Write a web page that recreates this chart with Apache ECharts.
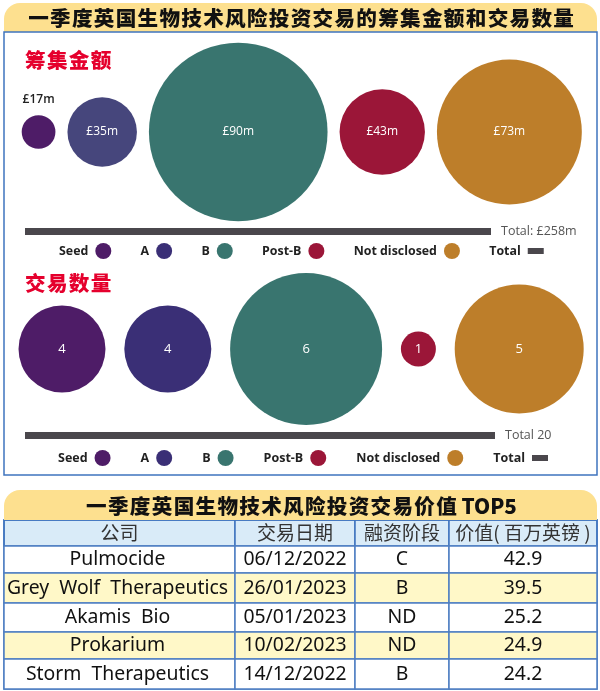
<!DOCTYPE html>
<html>
<head>
<meta charset="utf-8">
<script src="https://cdn.jsdelivr.net/npm/echarts@6/dist/echarts.min.js"></script>
<style>
html,body{margin:0;padding:0;background:#fff}
#chart{width:600px;height:691px}
</style>
</head>
<body>
<div id="chart"></div>
<script>
var stages = ['Seed', 'A', 'B', 'Post-B', 'Not disclosed'];
var amounts = [17, 35, 90, 43, 73];
var amountTotal = 258;
var deals = [4, 4, 6, 1, 5];
var dealTotal = 20;

var tableHead = ['公司', '交易日期', '融资阶段', '价值( 百万英镑 )'];
var companies = ['Pulmocide', 'Grey  Wolf  Therapeutics', 'Akamis  Bio', 'Prokarium', 'Storm  Therapeutics'];
var dealDates = ['06/12/2022', '26/01/2023', '05/01/2023', '10/02/2023', '14/12/2022'];
var dealStages = ['C', 'B', 'ND', 'ND', 'B'];
var dealValues = ['42.9', '39.5', '25.2', '24.9', '24.2'];

var myChart = echarts.init(document.getElementById('chart'));

var cjk = '"Noto Sans CJK SC", sans-serif';
var latin = '"Open Sans", "Noto Sans", sans-serif';
var stageColors = ['#4e1c67', '#3a2f76', '#39756f', '#9b1638', '#bd7e2a'];
var amountColors = ['#4e1c67', '#46467c', '#39756f', '#9b1638', '#bd7e2a'];
var totalColor = '#4a474c';
var dealSizes = {1: 35, 4: 87, 5: 129, 6: 152};
var rowSizes = [27, 30, 29, 27, 30];

// 字距
function spaced(s) { return s.split('').join('\u200a'); }

// 圆按直径依次排开
function packX(sizes, start, gap) {
    var x = start, out = [];
    sizes.forEach(function (d) {
        out.push(x + d / 2);
        x += d + gap;
    });
    return out;
}

var amountSizes = amounts.map(function (v) { return v * 1.985; });
var amountX = packX(amountSizes, 21.7, 12);
var dealDiameters = deals.map(function (v) { return dealSizes[v]; });
var dealX = packX(dealDiameters, 18.5, 18.8);

var series = [];
stages.forEach(function (name, i) {
    series.push({
        name: name, type: 'scatter', xAxisIndex: 0, yAxisIndex: 0,
        data: [[amountX[i], 0, amounts[i]]],
        symbolSize: amountSizes[i],
        itemStyle: {color: amountColors[i], opacity: 1},
        label: {
            show: true,
            position: i === 0 ? 'top' : 'inside',
            distance: 10,
            color: i === 0 ? '#222' : '#fff',
            fontFamily: latin, fontSize: 12, fontWeight: i === 0 ? 600 : 400,
            formatter: function (p) { return '£' + p.value[2] + 'm'; }
        }
    });
    series.push({
        name: name, type: 'scatter', xAxisIndex: 1, yAxisIndex: 1,
        data: [[dealX[i], 0, deals[i]]],
        symbolSize: dealDiameters[i],
        itemStyle: {color: stageColors[i], opacity: 1},
        label: {
            show: true, position: 'inside', color: '#fff',
            fontFamily: latin, fontSize: 13,
            formatter: function (p) { return p.value[2]; }
        }
    });
});
series.push({
    name: 'Total', type: 'bar', xAxisIndex: 2, yAxisIndex: 2, barWidth: 7,
    data: [amountTotal], itemStyle: {color: totalColor},
    label: {show: true, position: 'right', distance: 10, color: '#555', fontFamily: latin, fontSize: 12.5,
        formatter: function (p) { return 'Total: £' + p.value + 'm'; }}
});
series.push({
    name: 'Total', type: 'bar', xAxisIndex: 3, yAxisIndex: 3, barWidth: 7,
    data: [dealTotal], itemStyle: {color: totalColor},
    label: {show: true, position: 'right', distance: 10, color: '#555', fontFamily: latin, fontSize: 12.5,
        formatter: function (p) { return 'Total ' + p.value; }}
});

function legendOf(left, top, fontSize, gap) {
    var items = stages.map(function (name, i) {
        return {name: name, icon: 'circle', itemStyle: {color: stageColors[i]}};
    });
    items.push({name: 'Total', icon: 'path://M-2,8L-2,8M0,5H16V11H0ZM18,8L18,8', itemStyle: {color: totalColor}});
    return {
        left: left, top: top, orient: 'horizontal', align: 'right', selectedMode: false,
        itemWidth: 20, itemHeight: 16, itemGap: gap, padding: 0, data: items,
        textStyle: {fontFamily: latin, fontWeight: 700, fontSize: fontSize, color: '#222'}
    };
}

function hiddenAxis(type, grid, min, max) {
    return {type: type, gridIndex: grid, min: min, max: max, show: false};
}

// 表格
var cells = [];
companies.forEach(function (c, r) {
    [c, dealDates[r], dealStages[r], dealValues[r]].forEach(function (v, col) {
        cells.push({
            coord: [col, r], value: v,
            itemStyle: {color: r % 2 ? '#fff8c8' : '#fff'},
            label: {padding: col === 0 ? [5, 4, 0, 0] : [5, 0, 0, 0]}
        });
    });
});

var option = {
    animation: false,
    backgroundColor: '#fff',
    grid: [
        {left: 0, width: 600, top: 32, height: 200},
        {left: 0, width: 600, top: 249, height: 200},
        {left: 25, width: 466, top: 228, height: 7},
        {left: 25, width: 470, top: 432, height: 7}
    ],
    xAxis: [
        hiddenAxis('value', 0, 0, 600),
        hiddenAxis('value', 1, 0, 600),
        hiddenAxis('value', 2, 0, amountTotal),
        hiddenAxis('value', 3, 0, dealTotal)
    ],
    yAxis: [
        hiddenAxis('value', 0, -1, 1),
        hiddenAxis('value', 1, -1, 1),
        {type: 'category', gridIndex: 2, show: false, data: ['Total']},
        {type: 'category', gridIndex: 3, show: false, data: ['Total']}
    ],
    legend: [
        legendOf(59, 243, 12.4, 29.3),
        legendOf(58, 450, 12.5, 30)
    ],
    matrix: {
        left: 4, top: 520, width: 593, height: 169,
        x: {
            data: [
                {value: tableHead[0], size: 231},
                {value: tableHead[1], size: 120},
                {value: tableHead[2], size: 94},
                {value: tableHead[3], size: 148}
            ],
            levelSize: 26,
            itemStyle: {color: '#d9ebf8', borderColor: '#3f74bf', borderWidth: 1.5},
            label: {fontFamily: cjk, fontSize: 19, color: '#333', overflow: 'none'}
        },
        y: {show: false, data: rowSizes.map(function (s, i) { return {value: companies[i], size: s}; })},
        body: {
            data: cells,
            itemStyle: {borderColor: '#4f7fc2', borderWidth: 1.5},
            label: {fontFamily: '"Noto Sans", sans-serif', fontSize: 19.4, color: '#111', overflow: 'none'}
        },
        backgroundStyle: {color: 'transparent', borderColor: '#3f74bf', borderWidth: 1.5}
    },
    graphic: [
        {type: 'rect', shape: {x: 4, y: 3, width: 593, height: 29, r: [16, 16, 0, 0]}, style: {fill: '#fde08f'}},
        {type: 'rect', shape: {x: 4, y: 32, width: 593, height: 443}, style: {fill: 'none', stroke: '#3f74bf', lineWidth: 1.5}},
        {type: 'rect', shape: {x: 4, y: 490, width: 593, height: 30, r: [16, 16, 0, 0]}, style: {fill: '#fde08f'}},
        {type: 'text', x: 301, y: 18, style: {text: spaced('一季度英国生物技术风险投资交易的筹集金额和交易数量'), fill: '#111', font: '900 20.6px ' + cjk, textAlign: 'center', textVerticalAlign: 'middle'}},
        {type: 'text', x: 301.5, y: 506, style: {text: spaced('一季度英国生物技术风险投资交易价值') + ' TOP5', fill: '#111', font: '900 20.6px ' + cjk, textAlign: 'center', textVerticalAlign: 'middle'}},
        {type: 'text', x: 25, y: 60, style: {text: spaced('筹集金额'), fill: '#e5002d', font: '900 20.6px ' + cjk, textVerticalAlign: 'middle'}},
        {type: 'text', x: 25, y: 283, style: {text: spaced('交易数量'), fill: '#e5002d', font: '900 20.6px ' + cjk, textVerticalAlign: 'middle'}}
    ],
    series: series
};

myChart.setOption(option);
</script>
</body>
</html>
